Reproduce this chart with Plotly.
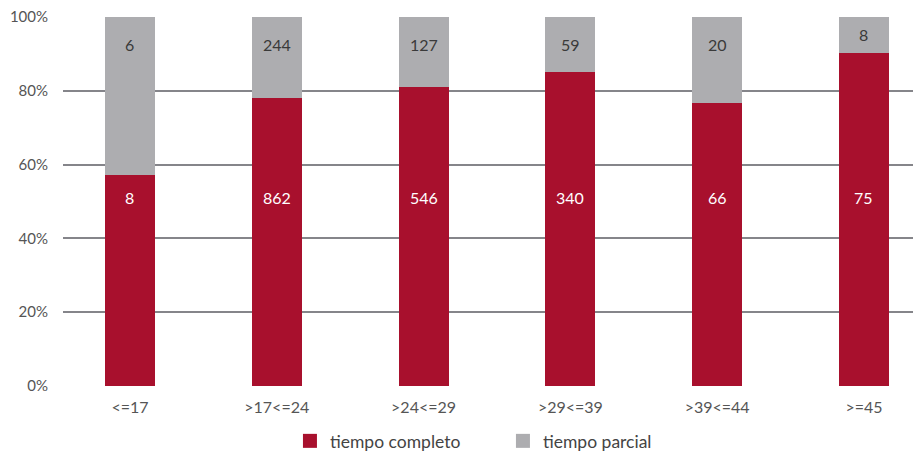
import plotly.graph_objects as go

categories = ["<=17", ">17<=24", ">24<=29", ">29<=39", ">39<=44", ">=45"]
tiempo_completo = [8, 862, 546, 340, 66, 75]
tiempo_parcial = [6, 244, 127, 59, 20, 8]

red = "#A8102D"
grey = "#ADADB0"
font_family = "Lato, 'Open Sans', sans-serif"

fig = go.Figure()
fig.add_trace(go.Bar(
    x=categories, y=tiempo_completo, name="tiempo completo", showlegend=False,
    marker=dict(color=red, line=dict(width=0)), width=0.34,
))
fig.add_trace(go.Bar(
    x=categories, y=tiempo_parcial, name="tiempo parcial", showlegend=False,
    marker=dict(color=grey, line=dict(width=0)), width=0.34,
))

# legend entries with larger square swatches
for name, color in [("tiempo completo", red), ("tiempo parcial", grey)]:
    fig.add_trace(go.Scatter(
        x=[None], y=[None], mode="markers", name=name,
        marker=dict(symbol="square", size=14, color=color),
    ))

# value labels: counts written inside each segment
for cat, c, p in zip(categories, tiempo_completo, tiempo_parcial):
    share = 100 * c / (c + p)
    fig.add_annotation(x=cat, y=51, text=str(c), showarrow=False,
                       font=dict(color="white", size=16, family=font_family))
    fig.add_annotation(x=cat, y=max(92.6, (share + 100) / 2), text=str(p),
                       showarrow=False,
                       font=dict(color="#3a3a3a", size=16, family=font_family))

fig.update_layout(
    barmode="stack",
    barnorm="percent",
    width=913, height=455,
    margin=dict(l=63, r=0, t=17, b=69, autoexpand=False),
    paper_bgcolor="white", plot_bgcolor="white",
    font=dict(family=font_family, color="#555555", size=13),
    legend=dict(
        orientation="h", x=0.267, xanchor="left", y=-0.149, yanchor="middle",
        font=dict(size=17.5, color="#444444"), itemwidth=30,
        entrywidth=168, entrywidthmode="pixels",
        traceorder="normal",
    ),
    xaxis=dict(
        range=[-0.456, 5.334], showgrid=False, zeroline=False, showline=False,
        ticks="", ticklabelstandoff=10, tickfont=dict(size=16, color="#555555"),
    ),
    yaxis=dict(
        range=[0, 100], tickvals=[0, 20, 40, 60, 80, 100],
        ticktext=["0%", "20%", "40%", "60%", "80%", "100%"],
        showgrid=True, gridcolor="#85858a", gridwidth=1.7,
        zeroline=False, showline=False, ticks="", ticklabelstandoff=14,
        tickfont=dict(size=15, color="#555555"),
    ),
)

fig.write_html("out.html")
